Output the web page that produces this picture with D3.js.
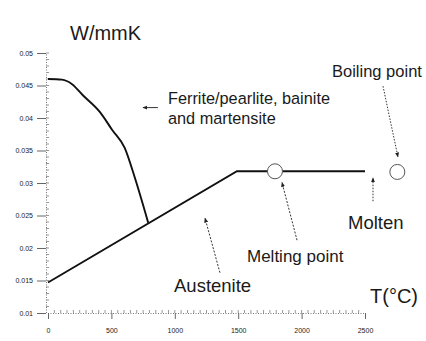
<!DOCTYPE html>
<html lang="en">
  <head>
    <meta charset="UTF-8" />
    <title>Thermal conductivity</title>
    <style>
      * {
        margin: 0;
        padding: 0;
      }
      body {
        background-color: #fff;
      }
      text {
        font-family: "Liberation Sans", Arial, sans-serif;
        fill: #1a1a1a;
      }
    </style>
  </head>
  <body>
    <script src="https://cdn.jsdelivr.net/npm/d3@7/dist/d3.min.js"></script>
    <script>
      // 数据 (T in °C, k in W/mmK)
      const ferriteT = [0, 110, 190, 275, 410, 505, 605, 685, 790];
      const ferriteK = [0.046, 0.0459, 0.0452, 0.0435, 0.0409, 0.0382, 0.0354, 0.0308, 0.0239];
      const austeniteT = [0, 1490, 2500];
      const austeniteK = [0.0147, 0.0318, 0.0318];
      const pointNames = ["Melting point", "Boiling point"];
      const pointT = [1790, 2755];
      const pointK = [0.0318, 0.0317];
      const xTicks = [0, 500, 1000, 1500, 2000, 2500];
      const yTicks = [0.01, 0.015, 0.02, 0.025, 0.03, 0.035, 0.04, 0.045, 0.05];

      const W = 426,
        H = 341;
      const svg = d3.select("body").append("svg").attr("width", W).attr("height", H);

      const x = d3.scaleLinear().domain([0, 2500]).range([48, 365]);
      const y = d3.scaleLinear().domain([0.01, 0.05]).range([313, 53]);

      // 坐标轴
      const xAxis = svg
        .append("g")
        .attr("transform", `translate(0,${y(0.01)})`)
        .call(d3.axisBottom(x).tickValues(xTicks).tickSize(6).tickFormat(d3.format("d")));
      const yAxis = svg
        .append("g")
        .attr("transform", `translate(${x(0) - 2},0)`)
        .call(d3.axisLeft(y).tickValues(yTicks).tickSize(9).tickPadding(4).tickFormat((d) => String(+d.toFixed(3))));
      [xAxis, yAxis].forEach((g) => {
        g.select(".domain").attr("stroke", "#777").attr("stroke-dasharray", "1,1.5");
        g.selectAll(".tick line").attr("stroke", "#666");
        g.selectAll(".tick text").attr("font-size", 7).attr("fill", "#666");
      });
      xAxis.selectAll(".tick text").attr("dy", "1.6em");
      // 小刻度
      svg
        .append("g")
        .selectAll("line")
        .data(d3.range(50, 2500, 50))
        .join("line")
        .attr("x1", (d) => x(d))
        .attr("x2", (d) => x(d))
        .attr("y1", y(0.01))
        .attr("y2", y(0.01) - 3)
        .attr("stroke", "#999");
      svg
        .append("g")
        .selectAll("line")
        .data(d3.range(0.011, 0.05, 0.001))
        .join("line")
        .attr("x1", x(0) - 2)
        .attr("x2", x(0) + 1)
        .attr("y1", (d) => y(d))
        .attr("y2", (d) => y(d))
        .attr("stroke", "#999");

      // 曲线
      const line = d3
        .line()
        .x((d) => x(d[0]))
        .y((d) => y(d[1]));
      svg
        .append("path")
        .datum(d3.zip(ferriteT, ferriteK))
        .attr("d", line.curve(d3.curveMonotoneX))
        .attr("fill", "none")
        .attr("stroke", "#111")
        .attr("stroke-width", 1.9);
      svg
        .append("path")
        .datum(d3.zip(austeniteT, austeniteK))
        .attr("d", line.curve(d3.curveLinear))
        .attr("fill", "none")
        .attr("stroke", "#111")
        .attr("stroke-width", 1.9);

      // 熔点 / 沸点
      svg
        .append("g")
        .selectAll("circle")
        .data(d3.zip(pointT, pointK))
        .join("circle")
        .attr("cx", (d) => x(d[0]))
        .attr("cy", (d) => y(d[1]))
        .attr("r", 7.5)
        .attr("fill", "#fff")
        .attr("stroke", "#555")
        .attr("stroke-width", 1);

      // 箭头
      const defs = svg.append("defs");
      defs
        .append("marker")
        .attr("id", "head")
        .attr("viewBox", "0 0 10 10")
        .attr("refX", 9)
        .attr("refY", 5)
        .attr("markerWidth", 5)
        .attr("markerHeight", 5)
        .attr("orient", "auto")
        .append("path")
        .attr("d", "M0,1L10,5L0,9Z")
        .attr("fill", "#222");
      const arrows = [
        { from: [867, 0.0416], to: [749, 0.0416], dash: null },
        { from: [1964, 0.0212], to: [1845, 0.0301], dash: "2,1.5" },
        { from: [1356, 0.0162], to: [1238, 0.0246], dash: "2,1.5" },
        { from: [2563, 0.0272], to: [2563, 0.0308], dash: "1.5,1.5" },
        { from: [2642, 0.0449], to: [2760, 0.034], dash: "1.5,1.5" },
      ];
      svg
        .append("g")
        .selectAll("line")
        .data(arrows)
        .join("line")
        .attr("x1", (d) => x(d.from[0]))
        .attr("y1", (d) => y(d.from[1]))
        .attr("x2", (d) => x(d.to[0]))
        .attr("y2", (d) => y(d.to[1]))
        .attr("stroke", "#333")
        .attr("stroke-width", 1)
        .attr("stroke-dasharray", (d) => d.dash)
        .attr("marker-end", "url(#head)");

      // 文字
      const labels = [
        { t: "W/mmK", x: 70, y: 40, s: 20 },
        { t: "Ferrite/pearlite, bainite", x: 168, y: 104, s: 16.3 },
        { t: "and martensite", x: 168, y: 124, s: 16.3 },
        { t: "Boiling point", x: 332, y: 77, s: 16.5 },
        { t: "Molten", x: 348, y: 229, s: 18.5 },
        { t: "Melting point", x: 247, y: 262, s: 17 },
        { t: "Austenite", x: 174, y: 292, s: 18.5 },
        { t: "T(°C)", x: 370, y: 303, s: 20 },
      ];
      svg
        .append("g")
        .selectAll("text")
        .data(labels)
        .join("text")
        .attr("x", (d) => d.x)
        .attr("y", (d) => d.y)
        .attr("font-size", (d) => d.s)
        .text((d) => d.t);
    </script>
  </body>
</html>
